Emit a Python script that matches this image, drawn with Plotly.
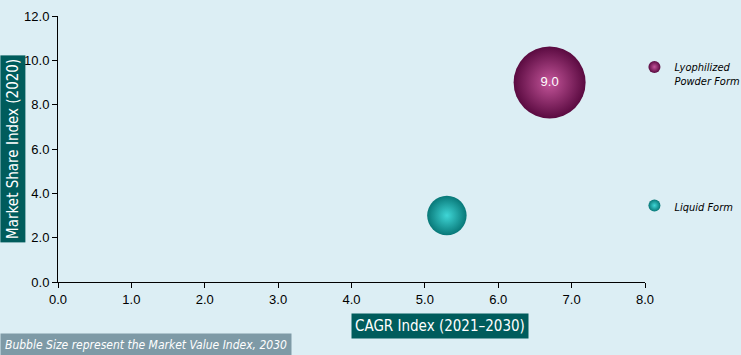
import plotly.graph_objects as go

segments = ["Lyophilized<br>Powder Form", "Liquid Form"]
cagr_index = [6.7, 5.3]
share_index = [9.0, 3.0]
value_index = [9.0, 2.7]
labels = ["9.0", ""]
x_ticks = [0, 1, 2, 3, 4, 5, 6, 7, 8]
y_ticks = [0, 2, 4, 6, 8, 10, 12]

centers = ["#C4559A", "#3FD6D6"]
edges = ["#5A0A40", "#087878"]

max_px = 72
sizeref = 2.0 * max(value_index) / (max_px ** 2)

fig = go.Figure()
for i in range(len(segments)):
    fig.add_trace(go.Scatter(
        x=[cagr_index[i]], y=[share_index[i]],
        mode="markers+text",
        name=segments[i],
        legendgroup=str(i),
        text=[labels[i]],
        textposition="middle center",
        textfont=dict(color="white", size=13, family="Liberation Sans"),
        marker=dict(size=[value_index[i]], sizemode="area", sizeref=sizeref,
                    color=edges[i], opacity=1,
                    gradient=dict(type="radial", color=centers[i]),
                    line=dict(width=0)),
        hoverinfo="x+y+name",
        cliponaxis=False,
    ))

bg = "#DCEEF4"
cond = "DejaVu Sans Condensed, Liberation Sans"
fig.update_layout(
    width=741, height=355,
    paper_bgcolor=bg, plot_bgcolor=bg,
    margin=dict(l=58, r=96, t=16, b=73, autoexpand=False),
    font=dict(family="Liberation Sans", size=13, color="black"),
    showlegend=True,
    legend=dict(x=0.982, y=0.86, xanchor="left", yanchor="top",
                font=dict(size=11, style="italic", family=cond),
                tracegroupgap=107, itemsizing="constant", valign="top",
                bgcolor="rgba(0,0,0,0)"),
    xaxis=dict(range=[0, 8], tickvals=x_ticks, tickformat=".1f",
               showgrid=False, zeroline=False, showline=True,
               linecolor="black", linewidth=1, ticks="outside",
               ticklen=5, tickcolor="black", automargin=False),
    yaxis=dict(range=[0, 12], tickvals=y_ticks, tickformat=".1f",
               showgrid=False, zeroline=False, showline=True,
               linecolor="black", linewidth=1, ticks="outside",
               ticklen=5, tickcolor="black", automargin=False),
    annotations=[
        dict(text="Market Share Index (2020)", xref="paper", yref="paper",
             x=-0.099, y=0.5, xanchor="left", yanchor="middle", textangle=-90,
             showarrow=False, bgcolor="#005C5C",
             font=dict(color="white", size=15, family=cond),
             borderpad=3),
        dict(text="CAGR Index (2021–2030)", xref="paper", yref="paper",
             x=0.651, y=-0.165, xanchor="center", yanchor="middle",
             showarrow=False, bgcolor="#005C5C",
             font=dict(color="white", size=15, family=cond),
             borderpad=3),
        dict(text="<i>Bubble Size represent the Market Value Index, 2030</i>",
             xref="paper", yref="paper", x=-0.099, y=-0.192,
             xanchor="left", yanchor="top", showarrow=False,
             bgcolor="#7E9AA6",
             font=dict(color="white", size=12, family=cond),
             borderpad=4),
    ],
)

fig.write_html("out.html", config={"displayModeBar": False},
               post_script="document.body.style.margin='0';")
